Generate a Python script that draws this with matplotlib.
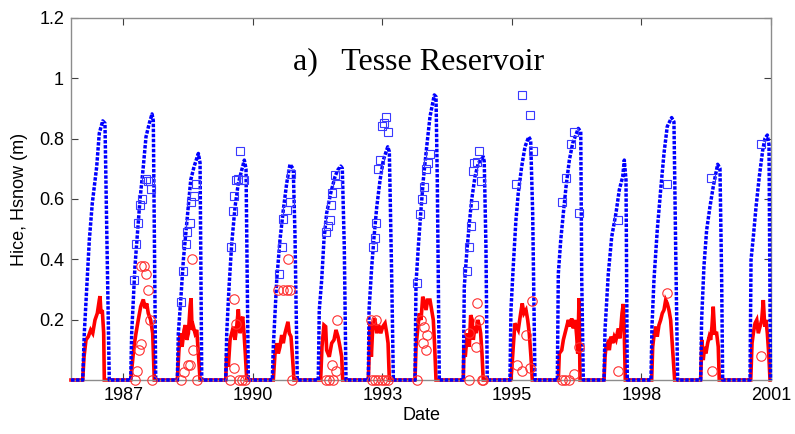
import datetime as dt
import math
import matplotlib
matplotlib.use("Agg")
import matplotlib.pyplot as plt
import matplotlib.dates as mdates

# ---------------- data (time in decimal years, heights in m) ----------------
ice_t = [1986.614,
    1986.861, 1986.895, 1987.001, 1987.064, 1987.157, 1987.212, 1987.284, 1987.332, 1987.423,
    1987.876, 1987.897, 1987.966, 1988.072, 1988.142, 1988.199, 1988.269, 1988.326, 1988.353, 1988.404,
    1988.860, 1988.881, 1988.932, 1988.987, 1989.072, 1989.143, 1989.213, 1989.304, 1989.340, 1989.376,
    1989.883, 1989.904, 1989.953, 1990.010, 1990.080, 1990.149, 1990.221, 1990.276, 1990.312, 1990.361,
    1990.868, 1990.889, 1990.961, 1991.030, 1991.100, 1991.172, 1991.242, 1991.311, 1991.347, 1991.396,
    1991.840, 1991.861, 1991.912, 1991.960, 1992.017, 1992.102, 1992.193, 1992.250, 1992.313, 1992.347, 1992.389, 1992.425,
    1992.896, 1992.911, 1992.968, 1993.017, 1993.074, 1993.144, 1993.213, 1993.306, 1993.340, 1993.391, 1993.425,
    1993.883, 1993.904, 1993.953, 1994.004, 1994.058, 1994.130, 1994.200, 1994.291, 1994.327, 1994.354, 1994.397,
    1994.904, 1994.925, 1994.976, 1995.031, 1995.081, 1995.151, 1995.221, 1995.326, 1995.347, 1995.383, 1995.411,
    1995.891, 1995.912, 1995.960, 1996.017, 1996.066, 1996.138, 1996.208, 1996.286, 1996.328, 1996.370, 1996.419,
    1996.890, 1996.911, 1996.962, 1997.017, 1997.074, 1997.144, 1997.215, 1997.334, 1997.385, 1997.406, 1997.439,
    1997.877, 1997.898, 1997.968, 1998.040, 1998.130, 1998.200, 1998.272, 1998.306, 1998.342, 1998.369,
    1998.870, 1998.891, 1998.933, 1999.003, 1999.075, 1999.145, 1999.214, 1999.307, 1999.356, 1999.392, 1999.434,
    1999.920, 1999.941, 1999.990, 2000.047, 2000.117, 2000.186, 2000.279, 2000.328, 2000.364, 2000.385,
    2000.962, 2000.983, 2001.032, 2001.089, 2001.158, 2001.230, 2001.279, 2001.328, 2001.363, 2001.395]
ice_h = [0,
    0, 0.155, 0.464, 0.586, 0.707, 0.818, 0.859, 0.851, 0,
    0, 0.155, 0.376, 0.597, 0.707, 0.806, 0.851, 0.882, 0.86, 0,
    0, 0.155, 0.265, 0.398, 0.541, 0.663, 0.707, 0.751, 0.72, 0,
    0, 0.155, 0.309, 0.453, 0.574, 0.652, 0.696, 0.729, 0.70, 0,
    0, 0.11, 0.331, 0.464, 0.563, 0.652, 0.715, 0.70, 0.486, 0,
    0, 0.232, 0.331, 0.464, 0.553, 0.619, 0.674, 0.696, 0.709, 0.702, 0.442, 0,
    0, 0.232, 0.376, 0.475, 0.574, 0.663, 0.729, 0.773, 0.757, 0.331, 0,
    0, 0.32, 0.442, 0.553, 0.663, 0.773, 0.873, 0.945, 0.939, 0.663, 0,
    0, 0.309, 0.42, 0.519, 0.597, 0.674, 0.718, 0.74, 0.724, 0.442, 0,
    0, 0.232, 0.376, 0.53, 0.619, 0.707, 0.773, 0.806, 0.795, 0.553, 0,
    0, 0.353, 0.464, 0.553, 0.641, 0.729, 0.785, 0.834, 0.823, 0.331, 0,
    0, 0.166, 0.353, 0.475, 0.553, 0.63, 0.674, 0.729, 0.663, 0,
    0, 0.177, 0.331, 0.497, 0.63, 0.751, 0.84, 0.87, 0.856, 0.442, 0,
    0, 0.199, 0.376, 0.497, 0.574, 0.641, 0.715, 0.702, 0.331, 0,
    0, 0.398, 0.475, 0.574, 0.674, 0.762, 0.801, 0.812, 0.78, 0]

snow_t = [1986.614,
    1986.861, 1986.889, 1986.931, 1986.980, 1987.030, 1987.073, 1987.121, 1987.170, 1987.212, 1987.227, 1987.248, 1987.275, 1987.305, 1987.318,
    1987.876, 1987.903, 1987.945, 1987.988, 1988.036, 1988.087, 1988.142, 1988.178, 1988.214, 1988.247, 1988.298, 1988.340, 1988.374,
    1988.860, 1988.890, 1988.917, 1988.960, 1989.002, 1989.029, 1989.059, 1989.093, 1989.129, 1989.150, 1989.171, 1989.198, 1989.234, 1989.270, 1989.304, 1989.340,
    1989.883, 1989.904, 1989.938, 1989.974, 1990.010, 1990.044, 1990.080, 1990.115, 1990.149, 1990.185, 1990.221, 1990.242, 1990.270, 1990.297, 1990.327,
    1990.889, 1990.925, 1990.961, 1990.995, 1991.030, 1991.066, 1991.100, 1991.136, 1991.172, 1991.199, 1991.227, 1991.263, 1991.299, 1991.326,
    1991.890, 1991.918, 1991.960, 1991.996, 1992.017, 1992.072, 1992.123, 1992.172, 1992.214, 1992.256, 1992.298, 1992.334, 1992.355,
    1992.896, 1992.917, 1992.932, 1992.960, 1992.989, 1993.032, 1993.074, 1993.116, 1993.158, 1993.201, 1993.249, 1993.285, 1993.313, 1993.340,
    1993.883, 1993.904, 1993.932, 1993.974, 1994.010, 1994.046, 1994.073, 1994.116, 1994.151, 1994.200, 1994.236, 1994.270, 1994.299, 1994.327,
    1994.904, 1994.918, 1994.946, 1994.988, 1995.031, 1995.060, 1995.094, 1995.115, 1995.151, 1995.172, 1995.208, 1995.242, 1995.271, 1995.299, 1995.326,
    1995.905, 1995.927, 1995.960, 1995.996, 1996.032, 1996.066, 1996.117, 1996.150, 1996.186, 1996.229, 1996.265, 1996.298, 1996.334, 1996.362,
    1996.911, 1996.932, 1996.983, 1997.017, 1997.053, 1997.089, 1997.123, 1997.158, 1997.194, 1997.228, 1997.270, 1997.300, 1997.321, 1997.349, 1997.370,
    1997.877, 1997.898, 1997.919, 1997.955, 1997.989, 1998.025, 1998.061, 1998.094, 1998.130, 1998.179, 1998.215, 1998.257, 1998.285, 1998.306, 1998.327,
    1998.885, 1998.906, 1998.940, 1998.976, 1999.003, 1999.039, 1999.075, 1999.109, 1999.145, 1999.181, 1999.214, 1999.250, 1999.286, 1999.314, 1999.341, 1999.371,
    1999.920, 1999.948, 1999.975, 2000.005, 2000.032, 2000.068, 2000.102, 2000.132, 2000.159, 2000.186, 2000.216, 2000.258, 2000.292, 2000.313,
    2000.977, 2001.004, 2001.032, 2001.068, 2001.104, 2001.137, 2001.173, 2001.209, 2001.243, 2001.273, 2001.300, 2001.328, 2001.357, 2001.385]
snow_h = [0,
    0, 0.077, 0.133, 0.144, 0.166, 0.155, 0.199, 0.221, 0.265, 0.278, 0.22, 0.232, 0.155, 0,
    0, 0.044, 0.11, 0.155, 0.199, 0.243, 0.267, 0.238, 0.254, 0.221, 0.199, 0.155, 0,
    0, 0.088, 0.155, 0.11, 0.166, 0.182, 0.133, 0.155, 0.243, 0.271, 0.166, 0.177, 0.155, 0.166, 0.088, 0,
    0, 0.088, 0.044, 0.133, 0.155, 0.177, 0.133, 0.177, 0.234, 0.155, 0.199, 0.21, 0.155, 0.088, 0,
    0, 0.088, 0.122, 0.088, 0.11, 0.149, 0.122, 0.155, 0.177, 0.193, 0.155, 0.144, 0.066, 0,
    0, 0.11, 0.182, 0.177, 0.099, 0.077, 0.122, 0.133, 0.166, 0.144, 0.11, 0.077, 0,
    0, 0.099, 0.193, 0.077, 0.177, 0.204, 0.155, 0.182, 0.155, 0.177, 0.188, 0.155, 0.122, 0,
    0, 0.11, 0.155, 0.221, 0.199, 0.276, 0.265, 0.232, 0.265, 0.265, 0.232, 0.199, 0.11, 0,
    0, 0.11, 0.077, 0.155, 0.11, 0.215, 0.199, 0.133, 0.177, 0.155, 0.199, 0.182, 0.155, 0.088, 0,
    0, 0.03, 0.11, 0.188, 0.177, 0.166, 0.221, 0.254, 0.221, 0.232, 0.199, 0.155, 0.077, 0,
    0, 0.088, 0.099, 0.133, 0.155, 0.177, 0.199, 0.177, 0.204, 0.171, 0.199, 0.144, 0.088, 0.271, 0,
    0, 0.077, 0.11, 0.122, 0.099, 0.144, 0.122, 0.144, 0.133, 0.171, 0.138, 0.221, 0.252, 0.155, 0,
    0, 0.11, 0.155, 0.177, 0.144, 0.182, 0.199, 0.221, 0.232, 0.265, 0.254, 0.232, 0.199, 0.133, 0.066, 0,
    0, 0.133, 0.066, 0.11, 0.088, 0.122, 0.144, 0.133, 0.177, 0.243, 0.155, 0.155, 0.11, 0,
    0, 0.122, 0.155, 0.188, 0.199, 0.155, 0.177, 0.199, 0.265, 0.177, 0.199, 0.155, 0.088, 0]

obs_ice_t = [
    1987.945, 1987.988, 1988.036, 1988.072, 1988.114, 1988.199, 1988.235, 1988.283, 1988.298,
    1988.932, 1988.987, 1989.038, 1989.065, 1989.122, 1989.156, 1989.207, 1989.255,
    1989.989, 1990.031, 1990.065, 1990.101, 1990.143, 1990.192, 1990.242, 1990.270,
    1991.009, 1991.066, 1991.100, 1991.172, 1991.242, 1991.263,
    1991.996, 1992.038, 1992.087, 1992.114, 1992.136, 1992.193, 1992.229,
    1992.989, 1993.032, 1993.065, 1993.108, 1993.150, 1993.186, 1993.222, 1993.270, 1993.319,
    1993.932, 1993.982, 1994.031, 1994.073, 1994.116, 1994.158, 1994.200,
    1994.976, 1995.031, 1995.060, 1995.136, 1995.109, 1995.136, 1995.187, 1995.235, 1995.284,
    1996.017, 1996.150, 1996.313, 1996.370,
    1996.983, 1997.074, 1997.173, 1997.243, 1997.349,
    1998.179, 1999.202, 2000.138, 2001.188]
obs_ice_h = [
    0.33, 0.451, 0.52, 0.581, 0.60, 0.666, 0.66, 0.66, 0.632,
    0.26, 0.36, 0.451, 0.49, 0.52, 0.591, 0.611, 0.65,
    0.44, 0.56, 0.61, 0.662, 0.667, 0.76, 0.663, 0.663,
    0.351, 0.442, 0.534, 0.563, 0.591, 0.683,
    0.49, 0.511, 0.532, 0.581, 0.619, 0.681, 0.65,
    0.442, 0.471, 0.519, 0.698, 0.729, 0.842, 0.851, 0.873, 0.821,
    0.32, 0.55, 0.601, 0.641, 0.698, 0.72, 0.749,
    0.36, 0.442, 0.511, 0.58, 0.694, 0.72, 0.722, 0.76, 0.66,
    0.65, 0.945, 0.88, 0.76,
    0.591, 0.671, 0.781, 0.821, 0.553,
    0.53, 0.65, 0.671, 0.781]

obs_snow_t = [
    1987.960, 1988.002, 1988.057, 1988.087, 1988.093, 1988.157, 1988.199, 1988.241, 1988.283, 1988.332,
    1988.932, 1989.002, 1989.080, 1989.129, 1989.165, 1989.198, 1989.270,
    1989.974, 1990.052, 1990.065, 1990.094, 1990.164, 1990.221, 1990.291,
    1990.995, 1991.087, 1991.172, 1991.242, 1991.199, 1991.290,
    1992.002, 1992.072, 1992.157, 1992.123, 1992.207, 1992.241,
    1992.947, 1993.059, 1992.968, 1993.038, 1993.108, 1993.179, 1993.249, 1993.313,
    1993.932, 1994.010, 1994.073, 1994.137, 1994.046, 1994.116,
    1995.187, 1995.242, 1995.024, 1995.172, 1995.031, 1995.293, 1995.320,
    1996.362, 1996.229, 1996.045, 1996.138, 1996.313,
    1996.983, 1997.053, 1997.144, 1997.249, 1997.349,
    1998.179, 1999.202, 2000.153, 2001.194]
obs_snow_h = [
    0, 0.03, 0.10, 0.12, 0.379, 0.379, 0.351, 0.30, 0.20, 0,
    0, 0.028, 0.05, 0.05, 0.40, 0.10, 0,
    0, 0.039, 0.27, 0.186, 0, 0, 0,
    0.30, 0.30, 0.30, 0.30, 0.40, 0,
    0, 0, 0, 0.05, 0.03, 0.20,
    0.20, 0.20, 0, 0, 0, 0, 0, 0,
    0, 0.20, 0.175, 0.149, 0.122, 0.10,
    0.254, 0.20, 0.155, 0.11, 0, 0, 0,
    0.262, 0.149, 0.05, 0.03, 0.04,
    0, 0, 0, 0.02, 0.11,
    0.03, 0.29, 0.03, 0.08]

tick_start = "1987-09-20"      # MATLAB datenum 726000, ticks every 1000 days
tick_step_days = 1000
tick_labels = ["1987", "1990", "1993", "1995", "1998", "2001"]
y_ticks = [0.2, 0.4, 0.6, 0.8, 1.0, 1.2]
y_tick_labels = ["0.2", "0.4", "0.6", "0.8", "1", "1.2"]
title_text = "a)   Tesse Reservoir"


def dy2num(y):
    yr = int(math.floor(y))
    a = mdates.date2num(dt.datetime(yr, 1, 1))
    b = mdates.date2num(dt.datetime(yr + 1, 1, 1))
    return a + (y - yr) * (b - a)


fig = plt.figure(figsize=(7.95, 4.34), dpi=100)
ax = fig.add_axes([71 / 795, 54 / 434, 700 / 795, 362 / 434])

sans = ["Liberation Sans", "DejaVu Sans"]

ax.plot([dy2num(v) for v in snow_t], snow_h, color="#ff0000", lw=2.6,
        solid_joinstyle="miter", clip_on=False, zorder=2)
ax.plot([dy2num(v) for v in ice_t], ice_h, color="#0000ff", lw=2.5,
        linestyle=(0, (1.0, 0.45)), clip_on=False, zorder=3)
ax.plot([dy2num(v) for v in obs_ice_t], obs_ice_h, linestyle="none", marker="s",
        ms=5.2, mfc="none", mec="#3a3aff", mew=0.8, clip_on=False, zorder=4)
ax.plot([dy2num(v) for v in obs_snow_t], obs_snow_h, linestyle="none", marker="o",
        ms=6.8, mfc="none", mec="#ff3030", mew=0.8, clip_on=False, zorder=4)

t0 = mdates.date2num(dt.datetime.strptime(tick_start, "%Y-%m-%d"))
xt = [t0 + k * tick_step_days for k in range(len(tick_labels))]
ax.set_xlim(t0 - 403, xt[-1])
ax.set_ylim(0, 1.2)
ax.set_xticks(xt)
ax.set_xticklabels(tick_labels, fontfamily=sans, fontsize=13)
ax.set_yticks(y_ticks)
ax.set_yticklabels(y_tick_labels, fontfamily=sans, fontsize=13)
ax.tick_params(direction="in", length=5, width=0.8, top=True, right=True,
               color="#404040", pad=5)
for s in ax.spines.values():
    s.set_color("#8c8c8c")
    s.set_linewidth(1.0)

ax.set_xlabel("Date", fontfamily=sans, fontsize=13, labelpad=2)
ax.set_ylabel("Hice, Hsnow (m)", fontfamily=sans, fontsize=13, labelpad=8)

ax.text(0.497, 0.859, title_text, transform=ax.transAxes,
        ha="center", va="baseline", fontfamily=["Liberation Serif", "DejaVu Serif"],
        fontsize=23)

fig.savefig("out.png", dpi=100)
